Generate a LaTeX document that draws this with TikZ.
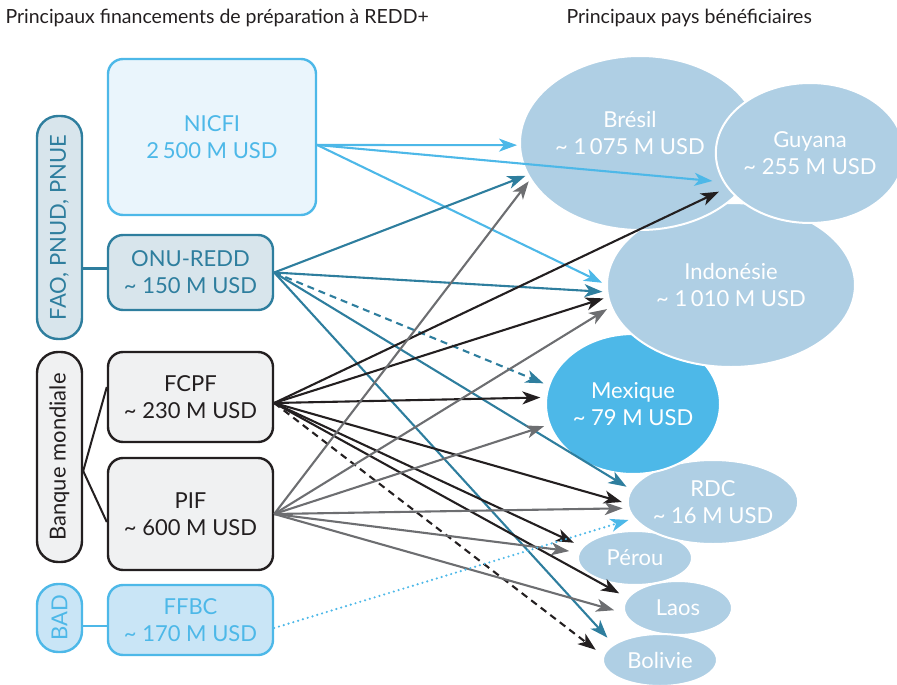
\documentclass[tikz,border=0pt]{standalone}
\usepackage{fontspec}
\setmainfont{Lato}
\usetikzlibrary{arrows.meta,shapes.geometric}

\definecolor{nicfiblue}{HTML}{4DB8E8}
\definecolor{nicfifill}{HTML}{EAF5FC}
\definecolor{badfill}{HTML}{C9E5F6}
\definecolor{onuteal}{HTML}{2E7E9E}
\definecolor{onufill}{HTML}{D8E5EC}
\definecolor{wbblack}{HTML}{231F20}
\definecolor{wbfill}{HTML}{F0F1F2}
\definecolor{pifgrey}{HTML}{6D6E71}
\definecolor{paysblue}{HTML}{AFCFE4}

\begin{document}
\begin{tikzpicture}[x=1pt,y=-1pt,
    fund/.style={draw, rounded corners=15pt, line width=2.4pt, align=center, inner sep=0pt, minimum width=165pt, font=\fontsize{22}{27}\selectfont},
    group/.style={draw, rounded corners=21pt, line width=2.4pt, rotate=90, inner sep=0pt, minimum height=45pt, font=\fontsize{22}{27}\selectfont},
    pays/.style={ellipse, draw=white, line width=2pt, fill=paysblue, text=white, align=center, inner sep=0pt, font=\fontsize{22}{27}\selectfont},
    flow/.style={line width=2.1pt, -{Stealth[length=18pt,width=13pt,inset=5pt]}},
    heading/.style={anchor=west, text=wbblack, font=\fontsize{19.5}{23}\selectfont}]
	%%%%% START %%%%%
	\def\xgroup{59.5}
	\def\xfund{190.5}
	\useasboundingbox (0,0) rectangle (897,685);

	\node[heading] (titlefund) at (2,18) {Principaux financements de préparation à REDD+};
	\node[heading] (titlepays) at (563,18) {Principaux pays bénéficiaires};

	% financements
	\node[fund, draw=nicfiblue, fill=nicfifill, text=nicfiblue, minimum width=208pt, minimum height=156pt] (nicfi) at (212,137) {NICFI\\2\,500 M USD};
	\node[fund, draw=onuteal, fill=onufill, text=onuteal, minimum height=75pt] (onu) at (\xfund,272.5) {ONU-REDD\\\textasciitilde\ 150 M USD};
	\node[fund, draw=wbblack, fill=wbfill, text=wbblack, minimum height=90pt] (fcpf) at (\xfund,397) {FCPF\\\textasciitilde\ 230 M USD};
	\node[fund, draw=wbblack, fill=wbfill, text=wbblack, minimum height=112pt] (pif) at (\xfund,514) {PIF\\\textasciitilde\ 600 M USD};
	\node[fund, draw=nicfiblue, fill=badfill, text=nicfiblue, minimum height=70pt] (ffbc) at (\xfund,620) {FFBC\\\textasciitilde\ 170 M USD};

	% groupes (tournes de 90 degres: south = cote droit)
	\node[group, draw=onuteal, fill=onufill, text=onuteal, minimum width=223pt] (fao) at (\xgroup,227.5) {FAO, PNUD, PNUE};
	\node[group, draw=wbblack, fill=wbfill, text=wbblack, minimum width=210pt] (bm) at (\xgroup,457) {Banque mondiale};
	\node[group, draw=nicfiblue, fill=badfill, text=nicfiblue, minimum width=68pt] (bad) at (\xgroup,618) {BAD};

	\draw[onuteal, line width=2.4pt] ([yshift=4pt]onu.west -| fao.south) -- ([yshift=4pt]onu.west);
	\draw[wbblack, line width=2pt] ([yshift=-14pt]bm.south) -- ([yshift=10pt]fcpf.west);
	\draw[wbblack, line width=2pt] ([yshift=-14pt]bm.south) -- ([yshift=-8pt]pif.west);
	\draw[nicfiblue, line width=2.4pt] ([yshift=-6pt]ffbc.west -| bad.south) -- ([yshift=-6pt]ffbc.west);

	% pays
	\node[pays, minimum width=114pt, minimum height=54pt, outer sep=10pt] (per) at (635,558) {Pérou};
	\node[pays, minimum width=108pt, minimum height=54pt, outer sep=10pt] (lao) at (678,608) {Laos};
	\node[pays, minimum width=114pt, minimum height=52pt, outer sep=10pt] (bol) at (660,660) {Bolivie};
	\node[pays, minimum width=164pt, minimum height=84pt, outer sep=6pt] (rdc) at (713,502) {RDC\\\textasciitilde\ 16 M USD};
	\node[pays, fill=nicfiblue, minimum width=174pt, minimum height=140pt, outer sep=6pt] (mex) at (633,404) {Mexique\\\textasciitilde\ 79 M USD};
	\node[pays, minimum width=248pt, minimum height=164pt, outer sep=5pt] (ind) at (731,285) {Indonésie\\\textasciitilde\ 1\,010 M USD};
	\node[pays, minimum width=240pt, minimum height=174pt, outer sep=3pt] (bre) at (640,143) {};
	\node[pays, draw=none, fill=none] (bretext) at (630,133) {Brésil\\\textasciitilde\ 1\,075 M USD};
	\node[pays, minimum width=176pt, minimum height=140pt, outer sep=10pt] (guy) at (810,153) {Guyana\\\textasciitilde\ 255 M USD};

	% NICFI
	\draw[flow, nicfiblue] ([yshift=-8pt]nicfi.east) -- (bre.181);
	\draw[flow, nicfiblue] ([yshift=-8pt]nicfi.east) -- (guy.196);
	\draw[flow, nicfiblue] ([yshift=-8pt]nicfi.east) -- (ind.179);

	% ONU-REDD
	\draw[flow, onuteal] (onu.east) -- (bre.196);
	\draw[flow, onuteal] (onu.east) -- (ind.183.5);
	\draw[flow, onuteal, dash pattern=on 7pt off 5pt] (onu.east) -- (mex.167);
	\draw[flow, onuteal] (onu.east) -- (rdc.170);
	\draw[flow, onuteal] (onu.east) -- (bol.157);

	% FCPF
	\draw[flow, wbblack] ([yshift=-6pt]fcpf.east) -- (guy.203);
	\draw[flow, wbblack] ([yshift=-6pt]fcpf.east) -- (ind.186.6);
	\draw[flow, wbblack] ([yshift=-6pt]fcpf.east) -- (mex.176);
	\draw[flow, wbblack] ([yshift=-6pt]fcpf.east) -- (rdc.180);
	\draw[flow, wbblack] ([yshift=-6pt]fcpf.east) -- (per.166);
	\draw[flow, wbblack] ([yshift=-6pt]fcpf.east) -- (lao.166);
	\draw[flow, wbblack, dash pattern=on 7pt off 5pt] ([yshift=-6pt]fcpf.east) -- (bol.171);

	% PIF
	\draw[flow, pifgrey] (pif.east) -- (bre.199.5);
	\draw[flow, pifgrey] (pif.east) -- (ind.191.6);
	\draw[flow, pifgrey] (pif.east) -- (mex.194.8);
	\draw[flow, pifgrey] (pif.east) -- (rdc.184);
	\draw[flow, pifgrey] (pif.east) -- (per.174);
	\draw[flow, pifgrey] (pif.east) -- (lao.182);

	% FFBC
	\draw[flow, nicfiblue, line width=2.4pt, line cap=round, dash pattern=on 0pt off 5pt] ([yshift=-8pt]ffbc.east) -- (rdc.192);
	%%%%% END %%%%%
\end{tikzpicture}
\end{document}
